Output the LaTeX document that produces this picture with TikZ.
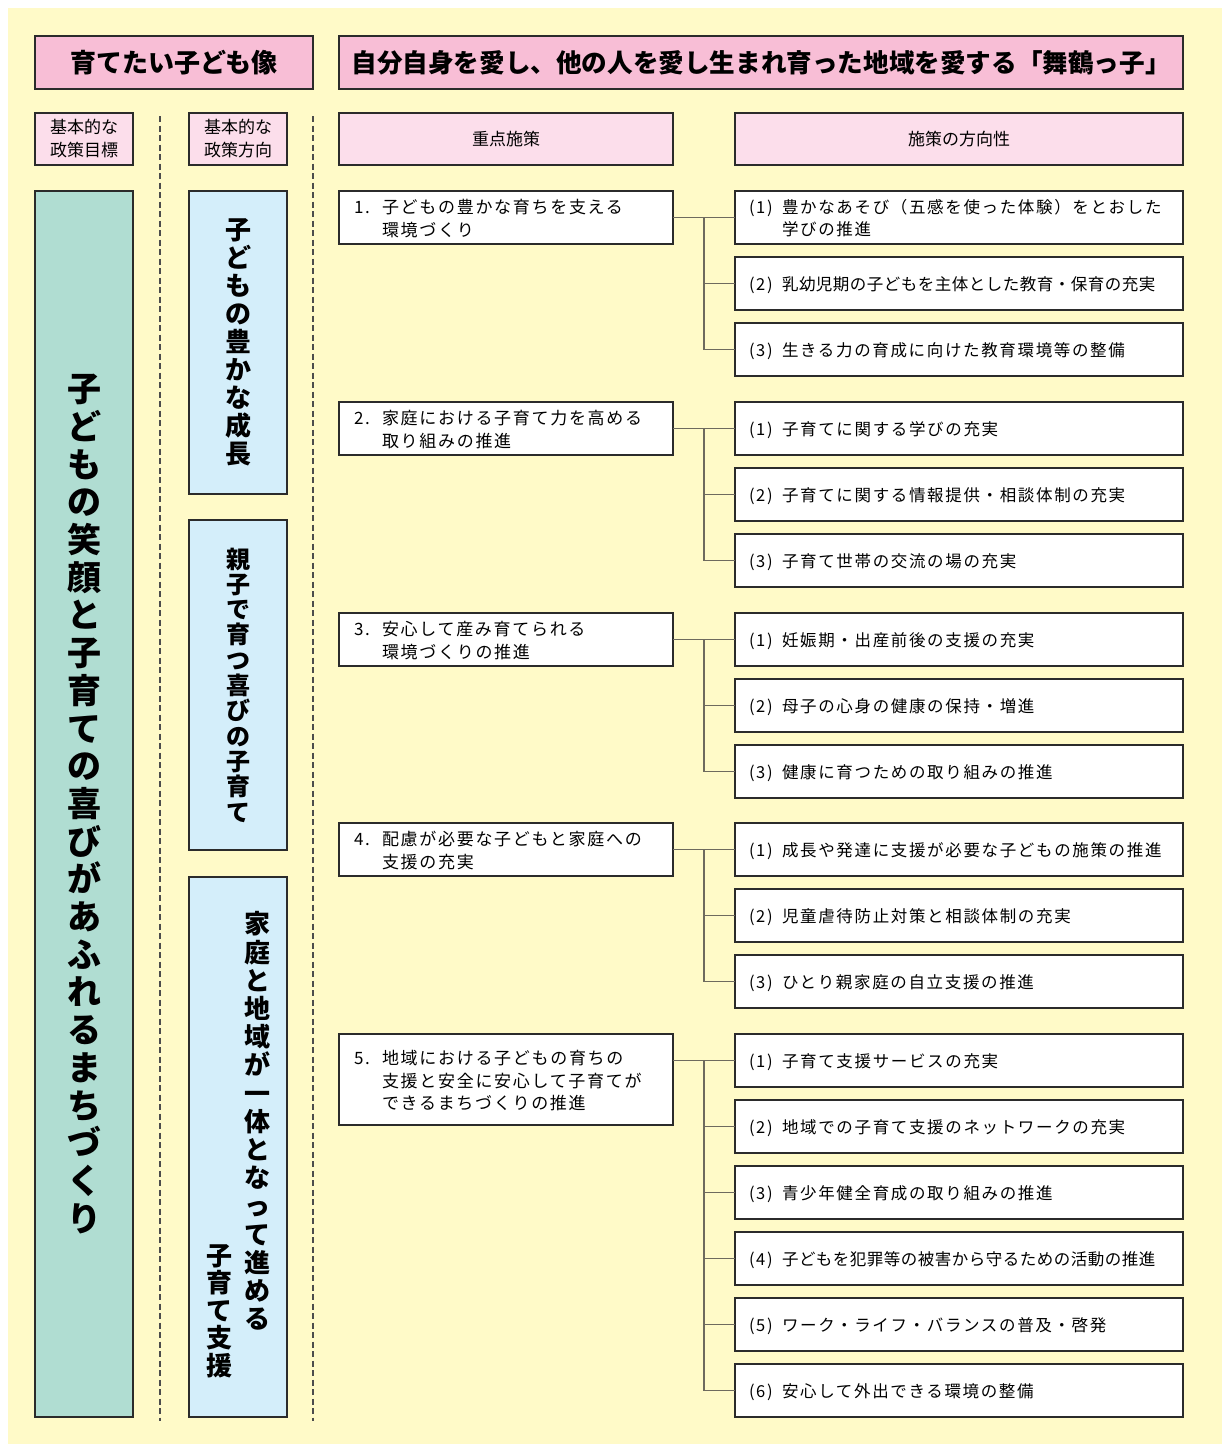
\documentclass[tikz,border=0pt]{standalone}
\usepackage{fontspec}
\setmainfont{Noto Sans CJK JP}
\newfontfamily\spaced{Noto Sans CJK JP}[LetterSpace=10]
\newfontfamily\snug{Noto Sans CJK JP}[LetterSpace=3]
\usepackage{tikz}
\usetikzlibrary{calc,positioning}
\definecolor{paper}{HTML}{FFFAC8}
\definecolor{pinkdeep}{HTML}{F8BED6}
\definecolor{pinklight}{HTML}{FCDEEB}
\definecolor{mint}{HTML}{B0DDD2}
\definecolor{sky}{HTML}{D4EEFA}
\definecolor{edge}{HTML}{2B2B2B}
\definecolor{wire}{HTML}{6E6A5E}
% vertical text: one character per line
\newcommand\tate[2]{\vbox{\baselineskip=#1\lineskiplimit=-100pt\lineskip=0pt\tatechar#2\relax}}
\def\tatechar#1{\ifx\relax#1\else\hbox to 1em{\hss#1\hss}\expandafter\tatechar\fi}
% number with hanging lines, ink lowered a little
\newcommand\numtext[3]{\raisebox{-3pt}[\height][\depth]{\begin{tabular}{@{}p{#1}@{}l@{}}#2 & #3\end{tabular}}}
\tikzset{%
	headbox/.style  = {draw=edge, line width=1.8pt, fill=pinkdeep, minimum height=53pt, inner sep=0pt, outer sep=0pt, font=\bfseries\fontsize{26}{30}\selectfont}, % top row
	subhead/.style  = {draw=edge, line width=1.8pt, fill=pinklight, minimum height=52pt, inner sep=0pt, outer sep=0pt, align=center, font=\fontsize{17}{23}\selectfont}, % column titles
	goal/.style     = {draw=edge, line width=1.8pt, fill=mint, minimum width=98pt, inner sep=0pt, outer sep=0pt, font=\bfseries\fontsize{34}{38}\selectfont},
	aim/.style      = {draw=edge, line width=1.8pt, fill=sky, minimum width=98pt, inner sep=0pt, outer sep=0pt, font=\bfseries\fontsize{26}{30}\selectfont},
	aimtext/.style  = {inner sep=0pt, font=\bfseries\fontsize{26}{30}\selectfont},
	pribox/.style   = {draw=edge, line width=1.8pt, fill=white, minimum width=334pt, minimum height=53pt, text width=304pt, inner xsep=15pt, inner ysep=0pt, outer sep=0pt, align=left, font=\spaced\fontsize{17}{22.5}\selectfont},
	itembox/.style  = {draw=edge, line width=1.8pt, fill=white, minimum width=448pt, minimum height=53pt, text width=420pt, inner xsep=14pt, inner ysep=0pt, outer sep=0pt, align=left, font=\spaced\fontsize{16.5}{22}\selectfont},
	link/.style     = {draw=wire, line width=1.4pt},
	sepline/.style  = {draw=black!70, line width=1.1pt, dash pattern=on 6pt off 3.5pt},
}
\begin{document}
\begin{tikzpicture}[x=1pt, y=-1pt]
		\useasboundingbox (0,0) rectangle (1222,1444);
		\fill[paper] (8,8) rectangle (1222,1444);
		% top row
		\node[headbox, minimum width=278pt] (ideal) at (174,62.5) {育てたい子ども像};
		\node[headbox, minimum width=844pt, font=\bfseries\fontsize{25.6}{30}\selectfont] (motto) at (761,62.5) {自分自身を愛し、他の人を愛し生まれ育った地域を愛する「舞鶴っ子」};
		% column titles
		\node[subhead, minimum width=98pt] (hgoal) at (84,139) {基本的な\\政策目標};
		\node[subhead, minimum width=98pt] (hdir) at (238,139) {基本的な\\政策方向};
		\node[subhead, minimum width=334pt] (hpri) at (506,139) {重点施策};
		\node[subhead, minimum width=448pt] (hitem) at (959,139) {施策の方向性};
		\draw[sepline] (160,116) -- (160,1421);
		\draw[sepline] (313,116) -- (313,1421);
		% goal and directions
		\node[goal, minimum height=1226pt] (goal) at (84,804) {\tate{37.7pt}{子どもの笑顔と子育ての喜びがあふれるまちづくり}};
		\node[aim, minimum height=303pt] (aim1) at (238,342.5) {\tate{28pt}{子どもの豊かな成長}};
		\node[aim, minimum height=330pt, font=\bfseries\fontsize{24}{28}\selectfont] (aim2) at (238,685) {\tate{25.3pt}{親子で育つ喜びの子育て}};
		\node[aim, minimum height=540pt] (aim3) at (238,1147) {};
		\node[aimtext] (aim3a) at (257,1121) {\tate{28.2pt}{家庭と地域が一体となって進める}};
		\node[aimtext] (aim3b) at (219,1311) {\tate{27.4pt}{子育て支援}};
		% priority measures
		\node[pribox] (p1) at (506,217.5) {\numtext{28pt}{1.}{子どもの豊かな育ちを支える\\ & 環境づくり}};
		\node[pribox] (p2) at (506,428.5) {\numtext{28pt}{2.}{家庭における子育て力を高める\\ & 取り組みの推進}};
		\node[pribox] (p3) at (506,639.5) {\numtext{28pt}{3.}{安心して産み育てられる\\ & 環境づくりの推進}};
		\node[pribox] (p4) at (506,849.5) {\numtext{28pt}{4.}{配慮が必要な子どもと家庭への\\ & 支援の充実}};
		\node[pribox, minimum height=91pt] (p5) at (506,1079.5) {\numtext{28pt}{5.}{地域における子どもの育ちの\\ & 支援と安全に安心して子育てが\\ & できるまちづくりの推進}};
		% directions of measures
		\node[itembox] (i11) at (959,217.5) {\numtext{33pt}{(1)}{豊かなあそび（五感を使った体験）をとおした\\ & 学びの推進}};
		\node[itembox, below=13pt of i11] (i12) {\numtext{33pt}{(2)}{\snug 乳幼児期の子どもを主体とした教育・保育の充実}};
		\node[itembox, below=13pt of i12] (i13) {\numtext{33pt}{(3)}{生きる力の育成に向けた教育環境等の整備}};
		\node[itembox] (i21) at (959,428.5) {\numtext{33pt}{(1)}{子育てに関する学びの充実}};
		\node[itembox, below=13pt of i21] (i22) {\numtext{33pt}{(2)}{子育てに関する情報提供・相談体制の充実}};
		\node[itembox, below=13pt of i22] (i23) {\numtext{33pt}{(3)}{子育て世帯の交流の場の充実}};
		\node[itembox] (i31) at (959,639.5) {\numtext{33pt}{(1)}{妊娠期・出産前後の支援の充実}};
		\node[itembox, below=13pt of i31] (i32) {\numtext{33pt}{(2)}{母子の心身の健康の保持・増進}};
		\node[itembox, below=13pt of i32] (i33) {\numtext{33pt}{(3)}{健康に育つための取り組みの推進}};
		\node[itembox] (i41) at (959,849.5) {\numtext{33pt}{(1)}{成長や発達に支援が必要な子どもの施策の推進}};
		\node[itembox, below=13pt of i41] (i42) {\numtext{33pt}{(2)}{児童虐待防止対策と相談体制の充実}};
		\node[itembox, below=13pt of i42] (i43) {\numtext{33pt}{(3)}{ひとり親家庭の自立支援の推進}};
		\node[itembox] (i51) at (959,1060.5) {\numtext{33pt}{(1)}{子育て支援サービスの充実}};
		\node[itembox, below=13pt of i51] (i52) {\numtext{33pt}{(2)}{地域での子育て支援のネットワークの充実}};
		\node[itembox, below=13pt of i52] (i53) {\numtext{33pt}{(3)}{青少年健全育成の取り組みの推進}};
		\node[itembox, below=13pt of i53] (i54) {\numtext{33pt}{(4)}{\snug 子どもを犯罪等の被害から守るための活動の推進}};
		\node[itembox, below=13pt of i54] (i55) {\numtext{33pt}{(5)}{ワーク・ライフ・バランスの普及・啓発}};
		\node[itembox, below=13pt of i55] (i56) {\numtext{33pt}{(6)}{安心して外出できる環境の整備}};
		% branches
		\coordinate (t1) at ($(p1.east)!0.5!(i11.west)$);
		\draw[link] (p1.east) -- (i11.west);
		\draw[link] (t1) |- (i12.west);
		\draw[link] (t1) |- (i13.west);
		\coordinate (t2) at ($(p2.east)!0.5!(i21.west)$);
		\draw[link] (p2.east) -- (i21.west);
		\draw[link] (t2) |- (i22.west);
		\draw[link] (t2) |- (i23.west);
		\coordinate (t3) at ($(p3.east)!0.5!(i31.west)$);
		\draw[link] (p3.east) -- (i31.west);
		\draw[link] (t3) |- (i32.west);
		\draw[link] (t3) |- (i33.west);
		\coordinate (t4) at ($(p4.east)!0.5!(i41.west)$);
		\draw[link] (p4.east) -- (i41.west);
		\draw[link] (t4) |- (i42.west);
		\draw[link] (t4) |- (i43.west);
		\coordinate (t5) at ($(p5.east |- i51.west)!0.5!(i51.west)$);
		\draw[link] (p5.east |- i51.west) -- (i51.west);
		\draw[link] (t5) |- (i52.west);
		\draw[link] (t5) |- (i53.west);
		\draw[link] (t5) |- (i54.west);
		\draw[link] (t5) |- (i55.west);
		\draw[link] (t5) |- (i56.west);
\end{tikzpicture}
\end{document}
